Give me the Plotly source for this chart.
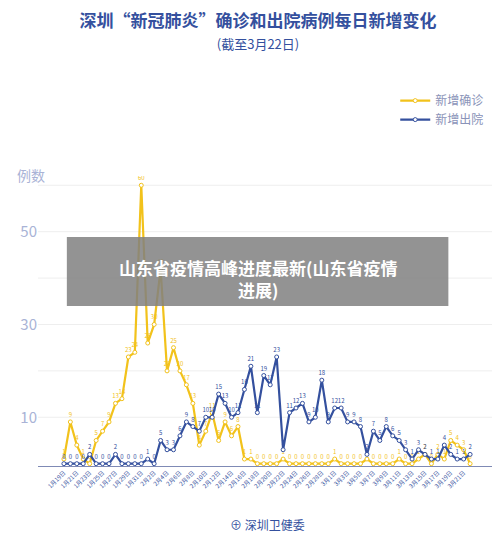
import plotly.graph_objects as go

dates = ["1月%d日" % d for d in range(19, 32)] + ["2月%d日" % d for d in range(1, 30)] + ["3月%d日" % d for d in range(1, 23)]

confirmed = [1, 9, 4, 1, 0, 5, 7, 9, 13, 14, 23, 24, 60,
             26, 30, 42, 20, 25, 20, 17, 13, 4, 7, 11, 5, 9, 6, 8, 1, 1, 0,
             0, 0, 0, 1, 0, 0, 0, 0, 0, 0, 0,
             1, 0, 0, 0, 0, 1, 0, 0, 0, 0, 1, 0, 0, 1, 2, 0, 2, 1, 5, 4, 3, 0]
discharged = [0, 0, 0, 0, 2, 0, 0, 0, 2, 0, 0, 0, 0,
              1, 0, 5, 3, 3, 6, 9, 8, 7, 10, 10, 15, 13, 10, 11, 16, 21, 11, 19, 17, 23, 3, 11, 12, 13, 9, 10, 18, 9,
              12, 12, 9, 9, 8, 2, 7, 5, 8, 6, 5, 3, 1, 3, 2, 1, 1, 4, 2, 1, 1, 2]

yellow = "#f2c21b"
blue = "#34509e"
font = "Noto Sans CJK SC"

fig = go.Figure()
fig.add_trace(go.Scatter(x=dates, y=confirmed, name="新增确诊", mode="lines+markers+text",
                         line=dict(color=yellow, width=2.2),
                         marker=dict(size=4, color="white", line=dict(color=yellow, width=1)),
                         text=confirmed, textposition="top center",
                         textfont=dict(size=6, color=yellow)))
fig.add_trace(go.Scatter(x=dates, y=discharged, name="新增出院", mode="lines+markers+text",
                         line=dict(color=blue, width=2.2),
                         marker=dict(size=4, color="white", line=dict(color=blue, width=1)),
                         text=discharged, textposition="top center",
                         textfont=dict(size=6, color=blue)))

fig.update_layout(
    width=500, height=548, plot_bgcolor="white", paper_bgcolor="white",
    font=dict(family=font),
    margin=dict(l=28, r=12, t=168, b=90),
    title=dict(text="<b>深圳“新冠肺炎”确诊和出院病例每日新增变化</b><br><span style='font-size:13px'>(截至3月22日)</span>",
               x=0.5, y=0.965, xanchor="center", yanchor="top",
               font=dict(size=17, color="#34509e")),
    legend=dict(x=0.78, y=1.31, xanchor="left", yanchor="top",
                font=dict(size=12, color="#8a93b8"), bgcolor="rgba(0,0,0,0)"),
    xaxis=dict(tickmode="array", tickvals=dates[::2], tickangle=-45,
               tickfont=dict(size=6, color="#34509e"), showgrid=False,
               showline=True, linecolor="#7f8ab5", linewidth=1),
    yaxis=dict(range=[-0.5, 62], tickvals=[10, 30, 50], showgrid=False,
               tickfont=dict(size=15, color="#a9b3d6"), zeroline=False),
    showlegend=True,
)
for g in [10, 20, 30, 40, 50, 60]:
    fig.add_shape(type="line", xref="paper", x0=0, x1=1, yref="y", y0=g, y1=g,
                  line=dict(color="#eeeeee", width=1), layer="below")

fig.add_annotation(text="例数", xref="paper", yref="paper", x=-0.05, y=1.045, showarrow=False,
                   xanchor="left", font=dict(size=14, color="#a9b3d6"))
fig.add_shape(type="rect", xref="paper", yref="paper", x0=0.063, x1=0.896, y0=0.552, y1=0.79,
              fillcolor="rgba(128,128,128,0.85)", line=dict(width=0))
fig.add_annotation(text="<b>山东省疫情高峰进度最新(山东省疫情<br>进展)</b>", xref="paper", yref="paper",
                   x=0.48, y=0.645, yanchor="middle", showarrow=False, align="center",
                   font=dict(size=17, color="white"))
fig.add_annotation(text="⊕ 深圳卫健委", xref="paper", yref="paper", x=0.5, y=-0.238,
                   showarrow=False, font=dict(size=12, color="#34509e"))

fig.write_html("out.html")
